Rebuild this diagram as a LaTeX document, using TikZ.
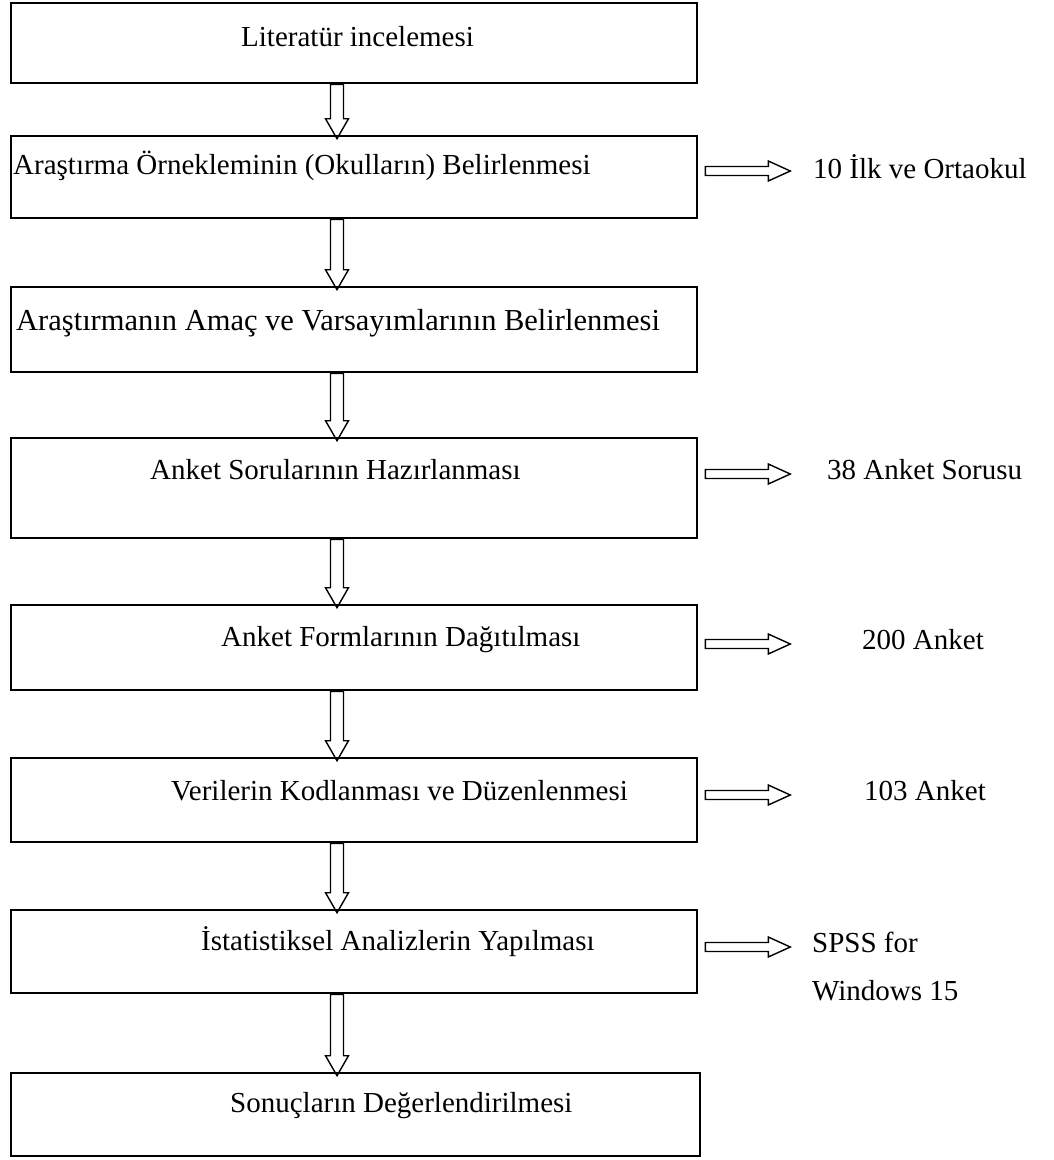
\documentclass[tikz,border=0pt]{standalone}
\usepackage{fontspec}
\setmainfont{Liberation Serif}
\usetikzlibrary{calc}
\tikzset{
  box/.style={draw, line width=2.6pt, minimum width=686pt, inner sep=0pt},
  txt/.style={anchor=west, inner sep=0pt, font=\fontsize{29}{48}\selectfont},
  downarr/.style={draw, line width=1.4pt, line join=miter, to path={
    let \p1=(\tikztostart), \p2=(\tikztotarget) in
    (\x1-6.5pt,\y1) -- (\x1-6.5pt,\y2+16pt) -- (\x1-11.5pt,\y2+16pt) -- (\x1,\y2-4pt)
    -- (\x1+11.5pt,\y2+16pt) -- (\x1+6.5pt,\y2+16pt) -- (\x1+6.5pt,\y1) -- cycle}},
  rightarr/.style={draw, line width=1.4pt, line join=miter, to path={
    let \p1=(\tikztostart) in
    (\x1+7pt,\y1+4.5pt) -- (\x1+70pt,\y1+4.5pt) -- (\x1+70pt,\y1+10pt) -- (\x1+92pt,\y1)
    -- (\x1+70pt,\y1-10pt) -- (\x1+70pt,\y1-4.5pt) -- (\x1+7pt,\y1-4.5pt) -- cycle}}
}
\begin{document}
\begin{tikzpicture}[x=1pt,y=-1pt]
\useasboundingbox (0,0) rectangle (1054,1160);
% boxes
\node[box, minimum height=80pt] (b1) at (354,43) {};
\node[box, minimum height=82pt] (b2) at (354,177) {};
\node[box, minimum height=85pt] (b3) at (354,329.5) {};
\node[box, minimum height=100pt] (b4) at (354,488) {};
\node[box, minimum height=85pt] (b5) at (354,647.5) {};
\node[box, minimum height=84pt] (b6) at (354,800) {};
\node[box, minimum height=83pt] (b7) at (354,951.5) {};
\node[box, minimum height=83pt, minimum width=689pt] (b8) at (355.5,1114.5) {};
% box texts
\node[txt] (t1) at (241,37) {Literatür incelemesi};
\node[txt] (t2) at (13,166) {Araştırma Örnekleminin (Okulların) Belirlenmesi};
\node[txt, font=\fontsize{30.5}{36}\selectfont] (t3) at (16,323) {Araştırmanın Amaç ve Varsayımlarının Belirlenmesi};
\node[txt] (t4) at (150,470) {Anket Sorularının Hazırlanması};
\node[txt] (t5) at (221,640) {Anket Formlarının Dağıtılması};
\node[txt] (t6) at (171,791) {Verilerin Kodlanması ve Düzenlenmesi};
\node[txt] (t7) at (201,942) {İstatistiksel Analizlerin Yapılması};
\node[txt] (t8) at (230,1106) {Sonuçların Değerlendirilmesi};
% side labels
\node[txt] (l2) at (813,167) {10 İlk ve Ortaokul};
\node[txt] (l4) at (827,470) {38 Anket Sorusu};
\node[txt] (l5) at (862,640) {200 Anket};
\node[txt] (l6) at (864,791) {103 Anket};
\node[txt, align=left] (l7) at (812,966) {SPSS for\\Windows 15};
% down arrows
\draw[downarr] ([xshift=-17pt]b1.south) to ([xshift=-17pt]b2.north);
\draw[downarr] ([xshift=-17pt]b2.south) to ([xshift=-17pt]b3.north);
\draw[downarr] ([xshift=-17pt]b3.south) to ([xshift=-17pt]b4.north);
\draw[downarr] ([xshift=-17pt]b4.south) to ([xshift=-17pt]b5.north);
\draw[downarr] ([xshift=-17pt]b5.south) to ([xshift=-17pt]b6.north);
\draw[downarr] ([xshift=-17pt]b6.south) to ([xshift=-17pt]b7.north);
\draw[downarr] ([xshift=-17pt]b7.south) to ([xshift=-18.5pt]b8.north);
% right arrows
\draw[rightarr] ([yshift=-4pt]b2.east |- l2.west) to (l2.west);
\draw[rightarr] ([yshift=-4pt]b4.east |- l4.west) to (l4.west);
\draw[rightarr] ([yshift=-4pt]b5.east |- l5.west) to (l5.west);
\draw[rightarr] ([yshift=-4pt]b6.east |- l6.west) to (l6.west);
\draw[rightarr] ([yshift=-5pt]b7.east |- t7.west) to (l7.west |- t7.west);
\end{tikzpicture}
\end{document}
